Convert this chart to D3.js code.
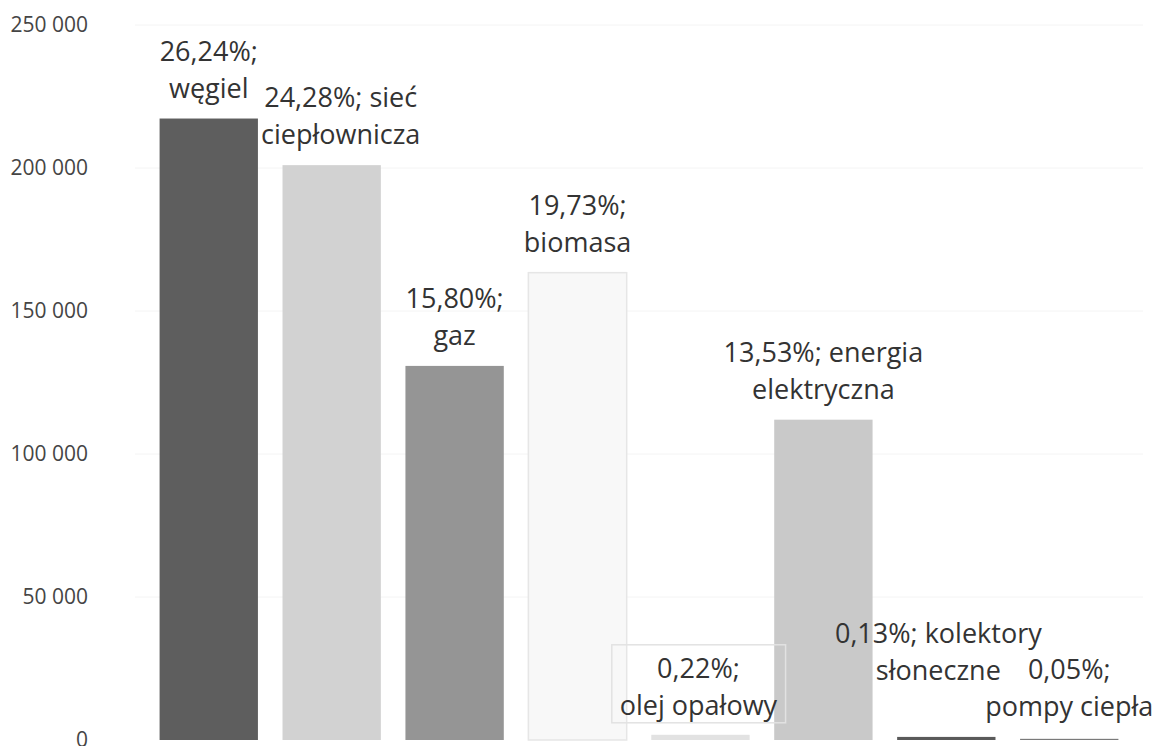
<!DOCTYPE html>
<html>
<head>
<meta charset="utf-8">
<script src="https://cdn.jsdelivr.net/npm/d3@7"></script>
<style>
  body { margin: 0; background: #fff; }
  text { font-family: "Open Sans", "Noto Sans", sans-serif; }
</style>
</head>
<body>
<div id="chart"></div>
<script>
// Data
const categories = ["węgiel", "sieć ciepłownicza", "gaz", "biomasa", "olej opałowy",
  "energia elektryczna", "kolektory słoneczne", "pompy ciepła"];
const values = [217300, 201000, 130800, 163400, 1820, 112000, 1080, 410];
const labelLines = [
  ["26,24%;", "węgiel"],
  ["24,28%; sieć", "ciepłownicza"],
  ["15,80%;", "gaz"],
  ["19,73%;", "biomasa"],
  ["0,22%;", "olej opałowy"],
  ["13,53%; energia", "elektryczna"],
  ["0,13%; kolektory", "słoneczne"],
  ["0,05%;", "pompy ciepła"]
];
const yTicks = [0, 50000, 100000, 150000, 200000, 250000];

// Styles / layout
const barColors = ["#5e5e5e", "#d2d2d2", "#959595", "#f8f8f8", "#e2e2e2", "#c9c9c9", "#5a5a5a", "#7a7a7a"];
const labelDx = [0, 9, 0, 0, -2, 0, -8, 0];
const labelGap = [21, 21, 21, 21, 20, 21, 57, 23];
const lineHeight = 37;

const width = 1162;
const height = 746;

const svg = d3.select("#chart")
  .append("svg")
  .attr("width", width)
  .attr("height", height);

const x = d3.scaleBand()
  .domain(categories)
  .range([135, 1143])
  .padding(0.2);

const y = d3.scaleLinear()
  .domain([0, 250000])
  .range([740, 25]);

const fmt = d => d3.format(",")(d).replace(/,/g, " ");

// Faint gridlines
svg.append("g")
  .selectAll("line")
  .data(yTicks.slice(1))
  .enter()
  .append("line")
  .attr("x1", 135)
  .attr("x2", 1143)
  .attr("y1", d => y(d))
  .attr("y2", d => y(d))
  .attr("stroke", "#f4f4f4")
  .attr("stroke-width", 1);

// Y axis labels
const yAxis = svg.append("g")
  .attr("transform", "translate(96,0)")
  .call(d3.axisLeft(y).tickValues(yTicks).tickFormat(fmt).tickSize(0).tickPadding(8));
yAxis.select(".domain").remove();
yAxis.selectAll("text")
  .style("font-family", "'Open Sans', sans-serif")
  .style("font-size", "21px")
  .attr("fill", "#454545");

// Bars
svg.append("g")
  .selectAll("rect")
  .data(categories)
  .enter()
  .append("rect")
  .attr("x", d => x(d))
  .attr("y", (d, i) => y(values[i]))
  .attr("width", x.bandwidth())
  .attr("height", (d, i) => y(0) - y(values[i]))
  .attr("fill", (d, i) => barColors[i])
  .attr("stroke", (d, i) => i === 3 ? "#e6e6e6" : "none")
  .attr("stroke-width", 1.5);

// Data labels
const labels = svg.append("g")
  .selectAll("g")
  .data(categories)
  .enter()
  .append("g")
  .attr("transform", (d, i) => {
    const cx = x(d) + x.bandwidth() / 2 + labelDx[i];
    const lastBase = y(values[i]) - labelGap[i];
    return `translate(${cx},${lastBase - (labelLines[i].length - 1) * lineHeight})`;
  });

labels.each(function(d, i) {
  const g = d3.select(this);
  labelLines[i].forEach((line, k) => {
    g.append("text")
      .attr("y", k * lineHeight)
      .attr("text-anchor", "middle")
      .style("font-size", "27px")
      .attr("fill", "#333")
      .text(line);
  });
  // light frame around the oil label, as in the source
  if (i === 4) {
    const bb = this.getBBox();
    g.insert("rect", "text")
      .attr("x", bb.x - 8)
      .attr("y", bb.y - 4)
      .attr("width", bb.width + 16)
      .attr("height", bb.height + 4)
      .attr("fill", "none")
      .attr("stroke", "#e2e2e2")
      .attr("stroke-width", 1.5);
  }
});
</script>
</body>
</html>
